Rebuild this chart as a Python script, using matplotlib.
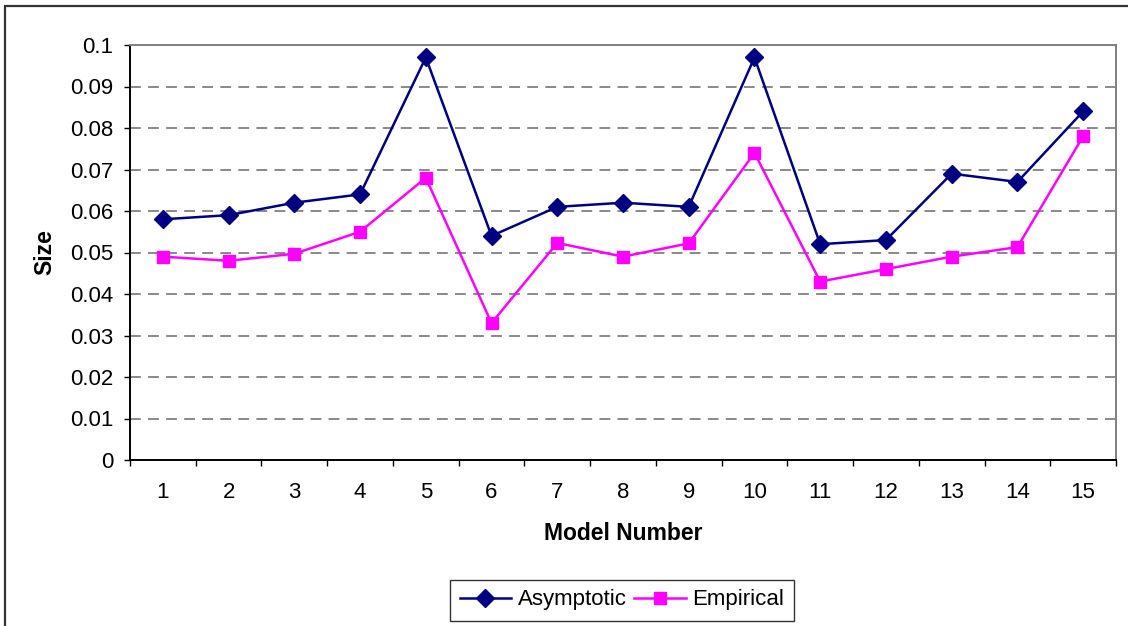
import matplotlib
matplotlib.use("Agg")
import matplotlib.pyplot as plt
from matplotlib.patches import Rectangle
from matplotlib.ticker import FixedLocator, FuncFormatter
import numpy as np

plt.rcParams['font.family'] = ['Liberation Sans', 'DejaVu Sans']

models = list(range(1, 16))
asymptotic = [0.058, 0.059, 0.062, 0.064, 0.097, 0.054, 0.061, 0.062, 0.061, 0.097,
              0.052, 0.053, 0.069, 0.067, 0.084]
empirical = [0.049, 0.048, 0.0497, 0.055, 0.068, 0.033, 0.0523, 0.049, 0.0522, 0.074,
             0.043, 0.046, 0.049, 0.0513, 0.078]
y_ticks = [0, 0.01, 0.02, 0.03, 0.04, 0.05, 0.06, 0.07, 0.08, 0.09, 0.1]

W, H = 1128, 626
fig = plt.figure(figsize=(W / 100, H / 100), dpi=100)
ax = fig.add_axes([130 / W, 1 - 460 / H, 986 / W, 415 / H])

ax.plot(models, asymptotic, color="#000080", lw=1.8, marker="D", ms=9,
        mec="#000080", mfc="#000080", label="Asymptotic", zorder=3, clip_on=False)
ax.plot(models, empirical, color="#FF00FF", lw=1.8, marker="s", ms=9,
        mec="#FF00FF", mfc="#FF00FF", label="Empirical", zorder=3, clip_on=False)

ax.set_xlim(0.5, 15.5)
ax.set_ylim(0, 0.1)

# y axis
ax.yaxis.set_major_locator(FixedLocator(y_ticks))
ax.yaxis.set_major_formatter(FuncFormatter(lambda v, p: f"{round(v, 3):g}"))
ax.tick_params(axis="y", direction="out", length=4, width=1, pad=8,
               labelsize=16, colors="black")
for v in y_ticks[1:-1]:
    ax.axhline(v, color="#808080", lw=1.3, ls=(0, (6, 4)), zorder=1)

# x axis: labels at categories, ticks at category boundaries
ax.set_xticks(models)
ax.set_xticks(np.arange(0.5, 16, 1), minor=True)
ax.tick_params(axis="x", which="major", length=0, pad=16, labelsize=16)
ax.tick_params(axis="x", which="minor", direction="out", length=4, width=1)

for s in ["left", "bottom"]:
    ax.spines[s].set_color("black")
    ax.spines[s].set_linewidth(1.4)
for s in ["top", "right"]:
    ax.spines[s].set_color("#808080")
    ax.spines[s].set_linewidth(1.4)

fig.text(623 / W, 1 - 533 / H, "Model Number", ha="center", va="center",
         fontsize=16.5, fontweight="bold")
fig.text(45 / W, 1 - 252 / H, "Size", ha="center", va="center",
         rotation=90, fontsize=16.5, fontweight="bold")

leg = fig.legend(loc="center", bbox_to_anchor=(622 / W, 1 - 600 / H), ncol=2,
                 fontsize=16, frameon=True, fancybox=False, edgecolor="black",
                 handlelength=2.3, handletextpad=0.3, columnspacing=0.35,
                 borderpad=0.45, borderaxespad=0)
leg.get_frame().set_linewidth(1.0)

# outer chart border
fig.patches.append(Rectangle((5 / W, -0.1), 1.2, 1 - 6 / H + 0.1,
                             transform=fig.transFigure, fill=False,
                             edgecolor="#333333", lw=1.6))

fig.savefig("out.png", dpi=100)
